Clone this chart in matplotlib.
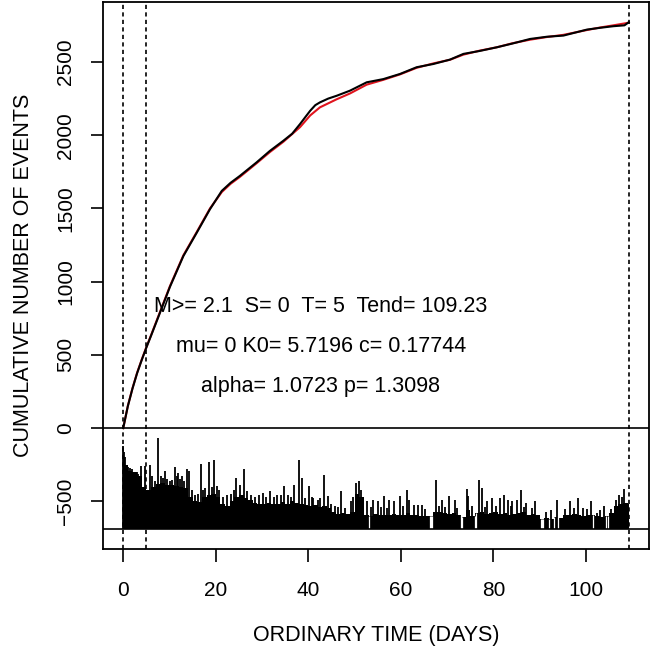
import numpy as np
import matplotlib
matplotlib.use("Agg")
import matplotlib.pyplot as plt

plt.rcParams['font.family'] = ['Liberation Sans', 'DejaVu Sans']

# cumulative number of events (observed, black) and ETAS model (red)
t_obs = [0, 1, 2, 3, 4, 5, 6, 7.6, 10.1, 13.0, 15.9, 18.75, 21.3, 23.2, 25.2,
         28.8, 31.7, 34.6, 36.5, 38.2, 39.5, 40.4, 41.5, 42.5, 44.3, 46.1, 49.0,
         52.6, 56.2, 59.8, 63.4, 67.0, 70.6, 73.5, 77.0, 80.7, 84.0, 87.9,
         91.5, 95.1, 100.2, 103.0, 105.9, 108.3, 109.23]
n_obs = [0, 150, 270, 375, 465, 550, 630, 760, 965, 1175, 1335, 1495, 1620,
         1675, 1722, 1814, 1893, 1962, 2010, 2076, 2130, 2167, 2205, 2224,
         2250, 2269, 2304, 2361, 2383, 2418, 2464, 2486, 2516, 2555, 2575,
         2600, 2625, 2657, 2672, 2680, 2721, 2733, 2744, 2750, 2771]
t_mod = [0, 1, 2, 3, 4, 5, 6, 7.6, 10.1, 13.0, 15.9, 18.75, 21.3, 23.2, 25.2,
         28.8, 31.7, 34.6, 38.2, 40.4, 42.5, 46.1, 49.0, 52.6, 56.2, 59.8,
         63.4, 67.0, 70.6, 73.5, 77.0, 80.7, 84.0, 87.9, 91.5, 95.1, 100.2,
         103.0, 105.9, 109.23]
n_mod = [0, 152, 272, 378, 468, 553, 633, 765, 970, 1180, 1340, 1500, 1612,
         1668, 1715, 1808, 1885, 1955, 2055, 2135, 2190, 2245, 2285, 2345,
         2378, 2415, 2460, 2490, 2515, 2550, 2577, 2600, 2627, 2652, 2670,
         2685, 2718, 2735, 2750, 2768]

# magnitude bars below the curve: baseline, daily floor, single spikes, quiet gaps
baseline = -687
floor_days = np.arange(110)
floor_top = [-250, -290, -300, -330, -400, -420, -400, -380, -375, -385,
             -390, -395, -400, -410, -470, -500, -505, -470, -460, -450,
             -470, -520, -530, -500, -470, -460, -480, -490, -510, -515,
             -520, -510, -520, -515, -505, -520, -500, -510, -520, -525,
             -530, -525, -540, -530, -545, -575, -585, -580, -585, -575,
             -450, -470, -590, -600, -585, -590, -595, -590, -585, -590,
             -595, -580, -590, -595, -600, -600, -600, -570, -575, -580,
             -585, -580, -590, -610, -560, -600, -580, -570, -585, -580,
             -575, -585, -580, -590, -585, -580, -575, -590, -585, -595,
             -620, -615, -620, -610, -615, -595, -590, -585, -590, -600,
             -595, -590, -600, -605, -600, -580, -530, -520, -510, -520]
spike_t = [0.05, 0.2, 0.35, 0.6, 1.5, 3.8, 4.7, 5.8, 7.6, 8.2, 9.0, 10.5,
           11.2, 11.9, 12.6, 13.7, 14.3, 16.8, 17.7, 18.6, 19.7, 20.3, 24.4,
           25.2, 26.0, 31.7, 33.2, 34.8, 35.7, 37.0, 38.0, 38.6, 40.2, 41.1,
           42.5, 43.4, 44.3, 47.0, 48.0, 49.2, 50.4, 51.0, 52.6, 54.0, 55.0,
           56.3, 57.5, 58.6, 59.8, 61.3, 61.7, 62.8, 63.6, 64.6, 67.6, 68.9,
           70.4, 71.6, 74.2, 74.6, 76.9, 77.6, 78.7, 79.7, 81.4, 82.2, 83.1,
           84.1, 85.0, 86.0, 87.1, 89.0, 93.7, 96.6, 98.2, 99.4, 101.1, 102.3,
           103.8, 107.2, 108.3,
           1.0, 2.0, 2.9, 3.3, 6.3, 6.8, 8.7, 9.5, 10.0, 11.6, 12.2, 13.2,
           14.8, 15.5, 16.2, 17.2, 19.2, 20.8, 21.5, 22.5, 23.3, 24.0, 26.8,
           27.5, 28.5, 29.3, 30.2, 30.8, 32.5, 34.0, 36.3, 39.3, 40.7, 42.0,
           45.0, 45.8, 46.5, 49.7, 51.4, 53.5, 55.6, 57.0, 60.5, 65.3, 68.2,
           69.6, 72.2, 75.3, 78.2, 80.5, 83.7, 86.6, 88.3, 91.3, 92.5, 95.5,
           97.3, 100.3, 103.0, 105.3, 106.5, 107.8]
spike_top = [-124, -160, -200, -250, -270, -261, -261, -250, -67, -330, -295,
             -352, -266, -306, -330, -279, -295, -245, -410, -234, -216, -398,
             -341, -386, -279, -432, -455, -398, -455, -386, -216, -341, -398,
             -478, -478, -318, -466, -432, -546, -500, -375, -364, -500, -489,
             -500, -466, -489, -500, -466, -425, -489, -523, -523, -523, -352,
             -489, -462, -489, -416, -466, -352, -409, -500, -478, -478, -455,
             -489, -500, -489, -425, -512, -500, -489, -500, -478, -546, -500,
             -580, -535, -455, -416,
             -265, -280, -300, -310, -330, -360, -340, -350, -360, -330, -350,
             -360, -420, -460, -450, -420, -400, -420, -470, -460, -450, -420,
             -430, -460, -470, -460, -440, -470, -470, -460, -470, -480, -470,
             -490, -520, -530, -540, -470, -420, -540, -540, -545, -530, -550,
             -530, -540, -545, -530, -540, -535, -530, -540, -545, -570, -560,
             -550, -545, -550, -560, -555, -490, -470]
gap_t = [53.0, 66.3, 66.5, 66.7, 72.9, 73.2, 75.9, 76.2, 90.2, 90.5, 90.8,
         92.0, 93.1, 93.9, 101.6, 104.3, 104.8]

t_start, t_learn, t_end = 0, 5, 109.23
info = ["M>= 2.1  S= 0  T= 5  Tend= 109.23",
        "mu= 0 K0= 5.7196 c= 0.17744",
        "alpha= 1.0723 p= 1.3098"]

fig = plt.figure(figsize=(6.5, 6.55), dpi=100)
ax = fig.add_axes([103 / 650, 1 - 549 / 655, 546 / 650, 547 / 655])

# bars
floor_top = np.array(floor_top)
widths = np.minimum(1.0, t_end - floor_days)
ax.bar(floor_days, floor_top - baseline, bottom=baseline, width=widths,
       align='edge', color='black', lw=0)
ax.vlines(spike_t, baseline, spike_top, color='black', lw=1.3)
gap_floor = floor_top[np.floor(gap_t).astype(int)]
ax.vlines(gap_t, baseline, gap_floor, color='white', lw=0.9)

# curves
ax.plot(t_mod, n_mod, color='#e0141e', lw=1.5)
ax.plot(t_obs, n_obs, color='black', lw=1.5)

ax.axhline(0, color='black', lw=1.2)
ax.axhline(baseline, color='black', lw=1.2)
for x in (t_start, t_learn, t_end):
    ax.axvline(x, color='black', lw=1.2, ls=(0, (2.5, 2)))

for i, s in enumerate(info):
    ax.text(42.7, 831 - 272 * i, s, ha='center', va='center', fontsize=15.5)

r = t_end - t_start
ax.set_xlim(t_start - 0.04 * r, t_end + 0.04 * r)
yr = n_obs[-1] - baseline
ax.set_ylim(baseline - 0.04 * yr, n_obs[-1] + 0.04 * yr)

ax.set_xticks([0, 20, 40, 60, 80, 100])
ax.set_yticks([-500, 0, 500, 1000, 1500, 2000, 2500])
ax.set_yticklabels(['\u2212500', '0', '500', '1000', '1500', '2000', '2500'],
                   rotation=90, va='center')
ax.tick_params(length=9, width=1.2, labelsize=15, pad=11)
ax.tick_params(axis='x', pad=14)
for sp in ax.spines.values():
    sp.set_linewidth(1.3)

ax.set_xlabel('ORDINARY TIME (DAYS)', fontsize=15.5, labelpad=18)
ax.set_ylabel('CUMULATIVE NUMBER OF EVENTS', fontsize=15.5, labelpad=16)

fig.savefig('out.png', dpi=100)
